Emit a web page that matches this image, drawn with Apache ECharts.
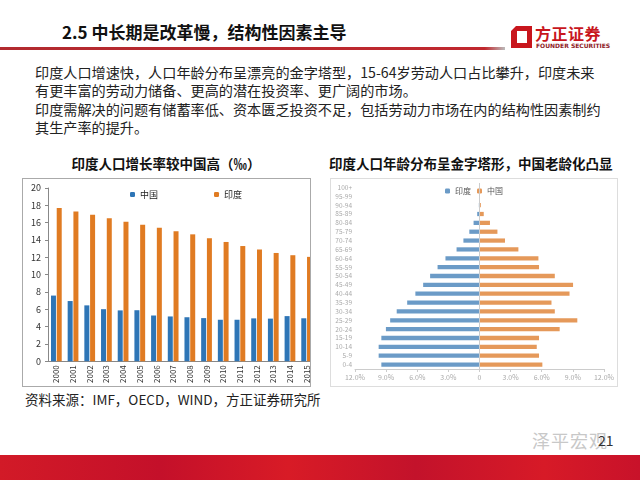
<!DOCTYPE html>
<html>
<head>
<meta charset="utf-8">
<script src="https://cdn.jsdelivr.net/npm/echarts@6/dist/echarts.min.js"></script>
<style>
  body { margin: 0; width: 640px; height: 480px; overflow: hidden; background: #fff;
         font-family: "Noto Sans CJK SC", sans-serif; position: relative; color: #222; }
  .abs { position: absolute; white-space: nowrap; }
  .title { left: 62px; top: 21px; font-size: 17px; font-weight: 700; line-height: 22px; color: #111; }
  .rule { left: 0; top: 47px; width: 505px; height: 3px;
          background: linear-gradient(to right, #b22a2f 0%, #c0282e 96%, #bbb 100%); }
  .logo-cn { left: 535px; top: 24px; font-size: 16px; font-weight: 700; color: #c8161d; line-height: 18px; letter-spacing: 0.5px; }
  .logo-en { left: 536px; top: 42px; font-size: 6px; font-weight: 700; color: #8e1b1f; line-height: 7px; font-family: "DejaVu Sans", sans-serif; }
  .para { left: 35px; top: 63px; font-size: 14.15px; line-height: 18.3px; color: #222; }
  .ctitle { top: 154px; font-size: 13.5px; font-weight: 700; line-height: 18px; color: #111; }
  .box { position: absolute; overflow: hidden; box-sizing: border-box; }
  .src { left: 25px; top: 390px; font-size: 13.5px; line-height: 18px; color: #222; }
  .page { left: 598px; top: 430px; font-size: 14px; color: #333; }
  .wm { left: 532px; top: 427px; font-size: 18px; color: #c8c8c8; letter-spacing: 1px; }
  .foot { left: 0; top: 455px; width: 640px; height: 25px;
          background: linear-gradient(to right, #d21a27 0%, #c4102a 25%, #d81b26 45%, #c3122b 65%, #d71a27 85%, #c8122a 100%); }
</style>
</head>
<body>
<div class="abs title">2.5 中长期是改革慢，结构性因素主导</div>
<div class="abs rule"></div>
<svg class="abs" style="left:511px;top:26px" width="21" height="22" viewBox="0 0 21 22">
  <path d="M5 0 H21 V22 H0 V5 Z M6 5 V17 H16 V5 Z" fill="#c8161d" fill-rule="evenodd"/>
</svg>
<div class="abs logo-cn">方正证券</div>
<div class="abs logo-en">FOUNDER SECURITIES</div>

<div class="abs para">印度人口增速快，人口年龄分布呈漂亮的金字塔型，15-64岁劳动人口占比攀升，印度未来<br>有更丰富的劳动力储备、更高的潜在投资率、更广阔的市场。<br>印度需解决的问题有储蓄率低、资本匮乏投资不足，包括劳动力市场在内的结构性因素制约<br>其生产率的提升。</div>

<div class="abs ctitle" style="left:22px;width:288px;text-align:center">印度人口增长率较中国高（‰）</div>
<div class="abs ctitle" style="left:329px">印度人口年龄分布呈金字塔形，中国老龄化凸显</div>

<div class="box" style="left:22px;top:178px;width:289px;height:209px;border:1px solid #aaa">
  <div id="growth" style="width:300px;height:207px"></div>
</div>
<div class="box" style="left:330px;top:178px;width:288px;height:209px;border:1px solid #ddd">
  <div id="pyramid" style="width:286px;height:207px"></div>
</div>

<div class="abs src">资料来源：IMF，OECD，WIND，方正证券研究所</div>
<div class="abs wm">泽平宏观</div>
<div class="abs page">21</div>
<div class="abs foot"></div>

<script>
// population growth rate (‰)
const years = ['2000','2001','2002','2003','2004','2005','2006','2007','2008','2009','2010','2011','2012','2013','2014','2015']
const chinaGrowth = [7.58, 6.95, 6.45, 6.01, 5.87, 5.89, 5.28, 5.17, 5.08, 4.98, 4.79, 4.79, 4.95, 4.92, 5.21, 4.96]
const indiaGrowth = [17.7, 17.3, 16.9, 16.5, 16.1, 15.75, 15.4, 15.0, 14.65, 14.2, 13.77, 13.3, 12.9, 12.5, 12.24, 12.05]

// age structure (% of population)
const ageGroups = ['0-4','5-9','10-14','15-19','20-24','25-29','30-34','35-39','40-44','45-49','50-54',
  '55-59','60-64','65-69','70-74','75-79','80-84','85-89','90-94','95-99','100+']
const indiaAge = [9.46, 9.72, 9.72, 9.46, 9.02, 8.61, 7.98, 6.97, 6.18, 5.43, 4.76, 4.04, 3.28, 2.21, 1.55, 0.98, 0.57, 0.22, 0.06, 0.02, 0]
const chinaAge = [6.06, 5.74, 5.52, 5.74, 7.73, 9.43, 7.26, 6.94, 8.68, 9.02, 7.26, 5.74, 5.68, 3.75, 2.46, 1.73, 1.01, 0.41, 0.13, 0.03, 0]

const growthChart = echarts.init(document.getElementById('growth'))
growthChart.setOption({
  animation: false,
  textStyle: { fontFamily: 'Noto Sans CJK SC' },
  legend: {
    data: ['中国', '印度'],
    left: 102, top: 6, itemGap: 56,
    itemWidth: 5, itemHeight: 5,
    textStyle: { fontSize: 9, color: '#222' }
  },
  grid: { left: 25, right: 8, top: 9, bottom: 23 },
  xAxis: {
    type: 'category',
    data: years,
    axisLine: { lineStyle: { color: '#888' } },
    axisTick: { length: 3, lineStyle: { color: '#888' } },
    axisLabel: { rotate: 90, interval: 0, fontSize: 8, color: '#333', margin: 4 }
  },
  yAxis: {
    type: 'value', min: 0, max: 20, interval: 2,
    axisLine: { show: true, lineStyle: { color: '#888' } },
    axisTick: { show: true, length: 3, lineStyle: { color: '#888' } },
    splitLine: { show: false },
    axisLabel: { fontSize: 9, color: '#333', margin: 7 }
  },
  series: [
    { name: '中国', type: 'bar', data: chinaGrowth, barWidth: 5, barGap: '15%', itemStyle: { color: '#2e75b6' } },
    { name: '印度', type: 'bar', data: indiaGrowth, barWidth: 5, itemStyle: { color: '#e07b22' } }
  ]
})

const pyramidChart = echarts.init(document.getElementById('pyramid'))
pyramidChart.setOption({
  animation: false,
  textStyle: { fontFamily: 'Noto Sans CJK SC' },
  legend: {
    data: ['印度', '中国'],
    left: 'center', top: 3, itemGap: 6,
    itemWidth: 5, itemHeight: 5,
    textStyle: { fontSize: 8, color: '#555' }
  },
  grid: { left: 24, right: 5, top: 4, bottom: 17 },
  xAxis: {
    type: 'value', min: -12, max: 12, interval: 3,
    axisLine: { show: true, lineStyle: { color: '#ccc' } },
    axisTick: { show: true, length: 3, lineStyle: { color: '#ccc' } },
    splitLine: { show: false },
    axisLabel: {
      fontSize: 7, color: '#aaa', margin: 5,
      formatter: v => v === 0 ? '0' : Math.abs(v).toFixed(1) + '%'
    }
  },
  yAxis: {
    type: 'category',
    data: ageGroups,
    axisLine: { show: false, onZero: false },
    axisTick: { show: false },
    axisLabel: { fontSize: 6.5, color: '#aaa', margin: 3, interval: 0 }
  },
  series: [
    {
      name: '印度', type: 'bar', data: indiaAge.map(v => -v),
      barWidth: '48%', barGap: '-100%', itemStyle: { color: '#6b9bc7' },
      markLine: {
        silent: true, symbol: 'none', label: { show: false },
        lineStyle: { color: '#ccc', type: 'solid', width: 1 },
        data: [{ xAxis: 0 }]
      }
    },
    { name: '中国', type: 'bar', data: chinaAge, barWidth: '48%', itemStyle: { color: '#e5995a' } }
  ]
})
</script>
</body>
</html>
